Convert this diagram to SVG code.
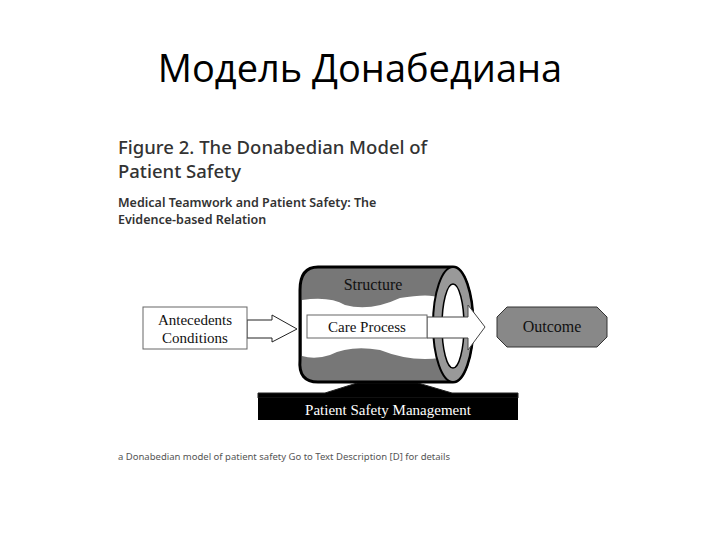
<svg xmlns="http://www.w3.org/2000/svg" width="720" height="540" viewBox="0 0 720 540">
<style>
.s{font-family:"Liberation Serif",serif;fill:#111}
.h{font-family:"Noto Sans",sans-serif;fill:#333}
</style>
<rect width="720" height="540" fill="#fff"/>
<text x="360" y="82" text-anchor="middle" font-family="'Open Sans',sans-serif" font-size="38" fill="#000">Модель Донабедиана</text>
<g class="h">
<text x="118" y="154" font-size="18.5" font-weight="500">Figure 2. The Donabedian Model of</text>
<text x="118" y="178" font-size="18.5" font-weight="500">Patient Safety</text>
<text x="118" y="207" font-size="12.5" font-weight="600">Medical Teamwork and Patient Safety: The</text>
<text x="118" y="224" font-size="12.5" font-weight="600">Evidence-based Relation</text>
<text x="118" y="460" font-size="9.5" fill="#555">a Donabedian model of patient safety  Go to Text Description [D] for details</text>
</g>
<g id="connectors" stroke="#222" stroke-width="1">
<path d="M247 320 H272 V315 L297 329 L272 342 V338 H247 Z" fill="#fff"/>
<path d="M258 393 L325 393 L357 383 L418 383 L452 393 L518 393 V398 H258 Z" fill="#000"/>
</g>
<g id="structure">
<path d="M318 267 H453 A20 57.5 0 0 1 453 382 H318 Q298 382 300 360 V290 Q300 267 318 267 Z" fill="#777" stroke="#000" stroke-width="3"/>
<path d="M302 300 Q330 296 345 305 Q370 312 400 298 Q430 293 440 298 V358 Q410 362 380 350 Q350 345 330 355 Q315 360 302 356 Z" fill="#fff"/>
<ellipse cx="453" cy="324.5" rx="20" ry="57.5" fill="#999" stroke="#000" stroke-width="2"/>
<ellipse cx="453" cy="326" rx="11" ry="42" fill="#fff" stroke="#000" stroke-width="1.5"/>
<text class="s" x="373" y="290" font-size="16" text-anchor="middle">Structure</text>
</g>
<g id="care">
<path d="M427 317 H468 V305 L485 327 L468 350 V338 H427 Z" fill="#fff" stroke="#444"/>
<rect x="307" y="315" width="120" height="23" fill="#fff" stroke="#666"/>
<text class="s" x="367" y="332" font-size="15" text-anchor="middle">Care Process</text>
</g>
<g id="antecedents">
<rect x="143" y="307" width="104" height="42" fill="#fff" stroke="#666"/>
<text class="s" x="195" y="325" font-size="15" text-anchor="middle">Antecedents</text>
<text class="s" x="195" y="343" font-size="15" text-anchor="middle">Conditions</text>
</g>
<g id="outcome">
<path d="M507 307 H597 L607 317 V337 L597 347 H507 L497 337 V317 Z" fill="#888" stroke="#333"/>
<text class="s" x="552" y="332" font-size="16" text-anchor="middle">Outcome</text>
</g>
<g id="psm">
<rect x="258" y="398" width="260" height="22" fill="#000"/>
<text class="s" x="388" y="415" font-size="15" text-anchor="middle" style="fill:#fff">Patient Safety Management</text>
</g>
</svg>
